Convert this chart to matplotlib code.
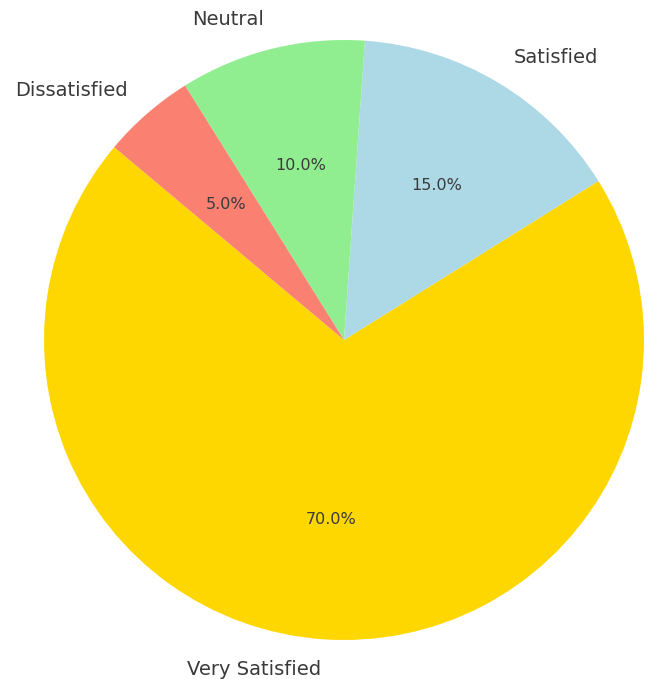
import matplotlib
matplotlib.use("Agg")
import matplotlib.pyplot as plt

categories = ["Very Satisfied", "Satisfied", "Neutral", "Dissatisfied"]
values = [70, 15, 10, 5]
colors = ["gold", "lightblue", "lightgreen", "salmon"]

fig = plt.figure(figsize=(6.5, 6.79), dpi=100)
ax = fig.add_axes([44/650, 39/679, 600/650, 600/679])
wedges, texts, autotexts = ax.pie(values, labels=categories, colors=colors,
                                  autopct="%1.1f%%", startangle=140,
                                  textprops={"color": "#3a3a3a"})
for t in texts:
    t.set_fontsize(14)
for t in autotexts:
    t.set_fontsize(11.5)
ax.set_xlim(-1, 1)
ax.set_ylim(-1, 1)
ax.set_aspect("equal")
fig.savefig("out.png", dpi=100)
